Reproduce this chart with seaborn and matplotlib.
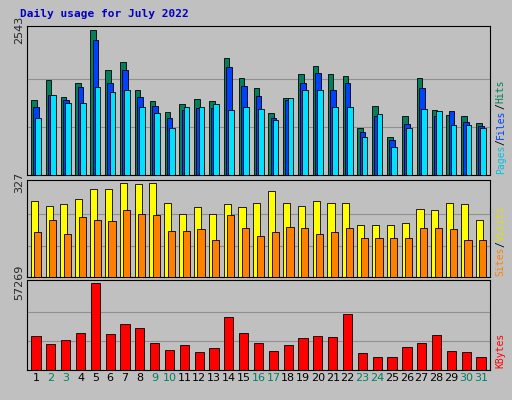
import matplotlib
matplotlib.use("Agg")
import matplotlib.pyplot as plt
import numpy as np
import pandas as pd
import seaborn as sns

days = list(range(1, 32))
weekend_days = [2, 3, 9, 10, 16, 17, 23, 24, 30, 31]

hits = [1316, 1666, 1368, 1614, 2543, 1842, 1982, 1491, 1298, 1105, 1245, 1333, 1298, 2052, 1701, 1526,
        1087, 1351, 1771, 1912, 1771, 1736, 824, 1210, 667, 1035, 1701, 1140, 1052, 1035, 912]
files = [1193, 1403, 1315, 1543, 2368, 1614, 1842, 1368, 1210, 1000, 1140, 1175, 1175, 1894, 1561, 1386,
         1000, 1315, 1614, 1789, 1491, 1614, 754, 1035, 614, 895, 1526, 1035, 1123, 930, 859]
pages = [1000, 1403, 1263, 1263, 1543, 1456, 1491, 1193, 1087, 824, 1193, 1193, 1245, 1140, 1193, 1158,
         965, 1351, 1491, 1491, 1193, 1193, 667, 1070, 491, 824, 1158, 1123, 877, 877, 824]
visits = [264, 246, 253, 271, 306, 306, 327, 323, 327, 257, 218, 243, 218, 253, 243, 257,
          299, 257, 246, 264, 257, 257, 179, 179, 179, 186, 236, 232, 257, 253, 197]
sites = [155, 197, 151, 207, 197, 193, 232, 218, 214, 158, 158, 165, 130, 214, 169, 141,
         155, 172, 169, 151, 155, 169, 137, 137, 137, 137, 169, 169, 165, 127, 127]
kbytes = [21978, 17316, 19980, 23976, 57269, 23310, 29970, 27306, 17982, 13320, 16650, 11988, 14652,
          34632, 23976, 17982, 12654, 16650, 20646, 21978, 21312, 36630, 11322, 8658, 8658, 15318,
          17982, 22644, 12654, 11988, 8658]

sns.set_style("white")
fig = plt.figure(figsize=(5.12, 4.0), dpi=100)
fig.patch.set_facecolor("#C0C0C0")

x = np.arange(len(days))
ax1 = fig.add_axes([0.053, 0.5625, 0.904, 0.3725])
ax2 = fig.add_axes([0.053, 0.3075, 0.904, 0.2425], sharex=ax1)
ax3 = fig.add_axes([0.053, 0.075, 0.904, 0.225], sharex=ax1)

for ax, top in [(ax1, 2543), (ax2, 327), (ax3, 57269)]:
    ax.set_facecolor("#C0C0C0")
    ax.set_ylim(0, top * 1.03)
    for f in (1 / 3, 2 / 3):
        ax.axhline(top * f, color="#909090", lw=0.8, zorder=0)
    ax.set_yticks([top])
    ax.set_yticklabels([str(top)], rotation=90, va="center", fontsize=8)
    ax.tick_params(axis="y", length=0, pad=2)
    for s in ax.spines.values():
        s.set_color("black")
        s.set_linewidth(0.8)

w = 0.38
ax1.bar(x - 0.15, hits, width=w, color="#00805C", edgecolor="black", lw=0.6, zorder=2)
ax1.bar(x, files, width=w, color="#0040FF", edgecolor="black", lw=0.6, zorder=3)
ax1.bar(x + 0.15, pages, width=w, color="#00E0FF", edgecolor="black", lw=0.6, zorder=4)

ax2.bar(x - 0.12, visits, width=0.48, color="#FFFF00", edgecolor="black", lw=0.6, zorder=2)
ax2.bar(x + 0.12, sites, width=0.48, color="#FF8000", edgecolor="black", lw=0.6, zorder=3)

df = pd.DataFrame({"day": x, "kbytes": kbytes})
sns.barplot(data=df, x="day", y="kbytes", native_scale=True, color="#FF0000", saturation=1,
            width=0.62, edgecolor="black", linewidth=0.6, ax=ax3, zorder=2)
ax3.set_xlabel("")
ax3.set_ylabel("")

ax1.set_xlim(-0.6, len(days) - 0.4)
ax3.set_xticks(x)
ax3.set_xticklabels([str(d) for d in days], fontsize=8)
for lbl, d in zip(ax3.get_xticklabels(), days):
    lbl.set_color("#008060" if d in weekend_days else "black")
ax3.tick_params(axis="x", length=0, pad=2)
plt.setp(ax1.get_xticklabels(), visible=False)
plt.setp(ax2.get_xticklabels(), visible=False)
ax1.tick_params(axis="x", length=0)
ax2.tick_params(axis="x", length=0)

fig.text(0.04, 0.965, "Daily usage for July 2022", color="#0000C0", fontsize=8,
         fontweight="bold", family="DejaVu Sans Mono", va="center")


def side_label(y0, parts):
    y = y0
    for txt, col in parts:
        fig.text(0.978, y, txt, color=col, rotation=90, fontsize=7,
                 family="DejaVu Sans Mono", ha="center", va="bottom")
        y += len(txt) * 0.0147


side_label(0.565, [("Pages", "#00C0E0"), ("/", "black"), ("Files", "#0040FF"),
                   ("/", "black"), ("Hits", "#00805C")])
side_label(0.31, [("Sites", "#FF8000"), ("/", "black"), ("Visits", "#E0E000")])
side_label(0.08, [("KBytes", "#FF0000")])

fig.savefig("out.png", dpi=100, facecolor=fig.get_facecolor())
